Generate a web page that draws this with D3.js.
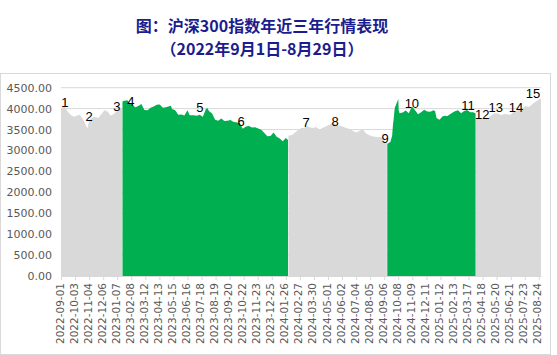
<!DOCTYPE html>
<html><head><meta charset="utf-8">
<script src="https://cdn.jsdelivr.net/npm/d3@7"></script>
<style>
html,body{margin:0;padding:0;background:#fff;}
svg{display:block;}
</style></head>
<body>
<script>
// ---- data ----
const dates = [
"2022-09-01","2022-09-09","2022-09-16","2022-09-23","2022-09-30","2022-10-14","2022-10-21","2022-10-31",
"2022-11-04","2022-11-11","2022-11-18","2022-11-25","2022-12-02","2022-12-09","2022-12-16","2022-12-23",
"2022-12-30","2023-01-06","2023-01-13","2023-01-18",
"2023-01-19","2023-01-20","2023-01-30","2023-02-03","2023-02-10","2023-02-17","2023-02-24","2023-03-03",
"2023-03-10","2023-03-17","2023-03-24","2023-03-31","2023-04-07","2023-04-14","2023-04-21","2023-04-28",
"2023-05-09","2023-05-12","2023-05-19","2023-05-26","2023-06-02","2023-06-09","2023-06-16","2023-06-21",
"2023-06-30","2023-07-07","2023-07-14","2023-07-21","2023-07-28","2023-07-31","2023-08-04","2023-08-11",
"2023-08-18","2023-08-25","2023-09-01","2023-09-08","2023-09-15","2023-09-22","2023-09-28","2023-10-13",
"2023-10-20","2023-10-27","2023-11-03","2023-11-10","2023-11-17","2023-11-24","2023-12-01","2023-12-08",
"2023-12-15","2023-12-22","2023-12-29","2024-01-05","2024-01-12","2024-01-19","2024-01-26","2024-01-31",
"2024-02-01","2024-02-08","2024-02-23","2024-03-01","2024-03-08","2024-03-15","2024-03-22","2024-03-29",
"2024-04-03","2024-04-12","2024-04-19","2024-04-26","2024-05-10","2024-05-17","2024-05-24","2024-05-31",
"2024-06-07","2024-06-14","2024-06-21","2024-06-28","2024-07-05","2024-07-12","2024-07-19","2024-07-26",
"2024-08-02","2024-08-09","2024-08-16","2024-08-23","2024-08-30","2024-09-06","2024-09-12",
"2024-09-13","2024-09-20","2024-09-24","2024-09-26","2024-09-27","2024-09-30","2024-10-08","2024-10-09",
"2024-10-11","2024-10-18","2024-10-25","2024-11-01","2024-11-08","2024-11-15","2024-11-22","2024-11-29",
"2024-12-06","2024-12-13","2024-12-20","2024-12-27","2024-12-31","2025-01-03","2025-01-10","2025-01-17",
"2025-01-24","2025-01-27","2025-02-07","2025-02-14","2025-02-21","2025-02-28","2025-03-07","2025-03-14",
"2025-03-21","2025-03-28","2025-04-02",
"2025-04-03","2025-04-11","2025-04-18","2025-04-25","2025-04-30","2025-05-09","2025-05-16","2025-05-23",
"2025-05-30","2025-06-06","2025-06-13","2025-06-20","2025-06-27","2025-07-04","2025-07-11","2025-07-18",
"2025-07-25","2025-08-01","2025-08-08","2025-08-15","2025-08-22","2025-08-29"
];
const values = [
4013,4050,3932,3856,3804,3852,3744,3525,
3717,3788,3801,3775,3870,3960,3930,3828,
3872,3940,3980,3995,
4150,4182,4201,4142,4106,4034,4062,4113,
3967,3959,4020,4050,4095,4100,4021,4030,
4070,3990,3960,3851,3862,3836,3963,3840,
3842,3827,3853,3806,3989,4014,3941,3884,
3736,3709,3765,3702,3708,3728,3689,3656,
3520,3572,3582,3550,3553,3526,3495,3419,
3342,3346,3431,3329,3285,3218,3299,3250,
3360,3364,3490,3536,3545,3574,3550,3537,
3563,3499,3541,3574,3650,3640,3602,3579,
3557,3531,3507,3462,3432,3472,3505,3410,
3370,3341,3328,3316,3321,3231,3175,
3160,3201,3352,3626,3703,4017,4230,3955,
3887,3910,3956,3888,4050,3968,3866,3916,
3973,3933,3928,3960,3935,3775,3732,3818,
3831,3817,3893,3939,3960,3890,3944,3970,
3914,3916,3884,
3780,3750,3773,3787,3770,3846,3889,3882,
3840,3873,3865,3846,3921,3950,3980,4010,
4060,4040,4090,4150,4200,4240
];
// phases: start date of each phase, and phase type
const phaseStarts = ["2022-09-01","2023-01-19","2024-02-01","2024-09-13","2025-04-03"];
const phaseTypes  = ["range","trend","range","trend","range"];
const yTicks = [0,500,1000,1500,2000,2500,3000,3500,4000,4500];
const xStart = "2022-09-01", xEnd = "2025-08-29";
const tickStepDays = 32;
const labelTexts  = ["1","2","3","4","5","6","7","8","9","10","11","12","13","14","15"];
const labelDates  = ["2022-09-10","2022-11-04","2023-01-06","2023-02-07","2023-07-14","2023-10-16","2024-03-12","2024-05-17",
                     "2024-09-08","2024-11-08","2025-03-16","2025-04-17","2025-05-18","2025-07-03","2025-08-11"];
const labelValues = [4141,3806,4046,4165,4022,3687,3663,3687,3280,4118,4070,3854,4022,4022,4357];
const titleLines = ["图：沪深300指数年近三年行情表现","（2022年9月1日-8月29日）"];

// ---- drawing ----
const W=557,H=355;
const parse=d3.utcParse("%Y-%m-%d");
const fmt=d3.utcFormat("%Y-%m-%d");
const colors={range:"#d9d9d9",trend:"#00b050"};
const svg=d3.select("body").append("svg").attr("width",W).attr("height",H);

svg.append("rect").attr("x",0.5).attr("y",73.5).attr("width",550).attr("height",281)
  .attr("fill","#fff").attr("stroke","#d9d9d9");

svg.selectAll("text.title").data(titleLines).join("text").attr("class","title")
  .attr("x",262).attr("y",(d,i)=>31.5+i*23.5).attr("text-anchor","middle")
  .attr("font-family","'Noto Sans CJK SC',sans-serif").attr("font-weight","bold").attr("font-size",16)
  .attr("fill","#1c1c8e").text(d=>d);

const x=d3.scaleUtc().domain([parse(xStart),parse(xEnd)]).range([61,541]);
const y=d3.scaleLinear().domain([0,4500]).range([276,87.7]);

// gridlines
svg.append("g").selectAll("line").data(yTicks.filter(v=>v>0)).join("line")
  .attr("x1",61).attr("x2",541).attr("y1",d=>y(d)).attr("y2",d=>y(d))
  .attr("stroke","#d9d9d9").attr("stroke-width",1);

// data points
const pts=dates.map((d,i)=>({date:parse(d),value:values[i]}));
const starts=phaseStarts.map(parse);
const area=d3.area().x(d=>x(d.date)).y0(y(0)).y1(d=>y(d.value));
starts.forEach((s,i)=>{
  const e=i<starts.length-1?starts[i+1]:new Date(8.64e15);
  const seg=pts.filter(p=>p.date>=s&&p.date<e);
  svg.append("path").datum(seg).attr("d",area).attr("fill",colors[phaseTypes[i]]);
});

// y axis labels
const yAxis=d3.axisLeft(y).tickValues(yTicks).tickFormat(d3.format(".2f")).tickSize(0).tickPadding(9);
const gy=svg.append("g").attr("transform","translate(61,0)").call(yAxis);
gy.select(".domain").remove();
gy.selectAll("text").attr("font-family","'DejaVu Sans',sans-serif").attr("font-size",11).attr("fill","#595959");

// x axis
const t0=parse(xStart), t1=parse(xEnd);
const xTicks=d3.utcDay.every(1).range(t0,d3.utcDay.offset(t1,1)).filter(d=>Math.round((d-t0)/864e5)%tickStepDays===0);
const xAxis=d3.axisBottom(x).tickValues(xTicks).tickFormat(fmt).tickSize(4).tickSizeOuter(0);
const gx=svg.append("g").attr("transform","translate(0,276)").call(xAxis);
gx.select(".domain").attr("stroke","#d9d9d9");
gx.selectAll(".tick line").attr("stroke","#d9d9d9");
gx.selectAll("text").attr("font-family","'DejaVu Sans',sans-serif").attr("font-size",10.5).attr("fill","#595959")
  .attr("text-anchor","end").attr("dominant-baseline","central")
  .attr("transform","rotate(-90)").attr("x",-7).attr("y",-2).attr("dy",null);

// number labels
svg.append("g").selectAll("text").data(labelTexts).join("text")
  .attr("x",(d,i)=>x(parse(labelDates[i]))).attr("y",(d,i)=>y(labelValues[i]))
  .attr("text-anchor","middle").attr("dominant-baseline","central")
  .attr("font-family","'Liberation Sans',Arial,sans-serif").attr("font-size",13).attr("fill","#000")
  .text(d=>d);
</script>
</body></html>
